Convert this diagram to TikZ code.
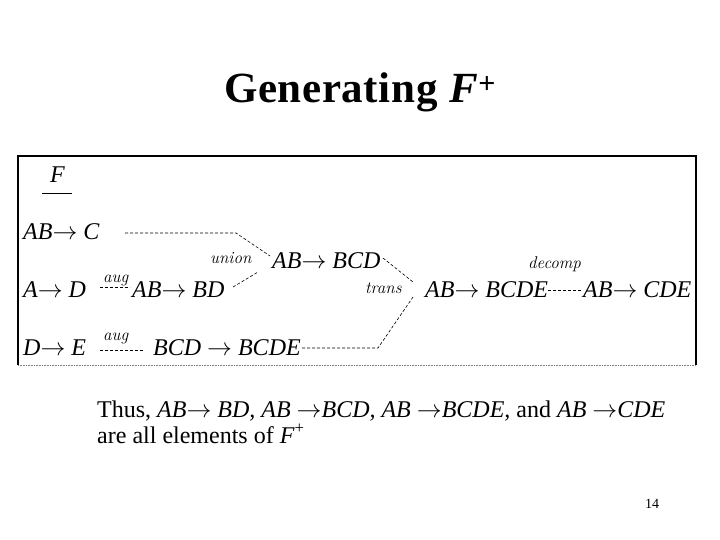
\documentclass[tikz,border=0pt]{standalone}
\usepackage{fontspec}
\setmainfont{Liberation Serif}
\newfontfamily\labfont{Latin Modern Roman}
\newcommand\arr{\ensuremath{\rightarrow}}
\begin{document}
\begin{tikzpicture}[x=1pt,y=-1pt,
  txt/.style={anchor=base west,inner sep=0pt,font=\fontsize{24}{28}\selectfont\itshape},
  lab/.style={anchor=base west,inner sep=0pt,font=\fontsize{17}{20}\labfont\itshape},
  dsh/.style={line width=0.6pt,dash pattern=on 3pt off 2pt}]
\useasboundingbox[fill=white] (0,0) rectangle (720,540);
% title
\node[anchor=base,inner sep=0pt,font=\fontsize{43}{50}\selectfont\bfseries\addfontfeature{LetterSpace=1.5}] (title) at (360,103) {Generating \textit{F}\textsuperscript{+}};
% frame
\draw[line width=1.2pt] (18,365) -- (18,156) -- (696,156) -- (696,365);
\draw[line width=0.5pt,gray,dash pattern=on 0.8pt off 0.8pt] (18,365) -- (696,365);
% F
\node[txt] (F) at (50,183) {F};
\draw[line width=0.8pt] (42,193) -- (72,193);
% rows
\node[txt] (ABC) at (23,240) {AB\arr\ C};
\node[txt] (AD) at (23,297) {A\arr\ D};
\node[txt] (DE) at (23,355) {D\arr\ E};
\node[txt] (ABBD) at (132,297) {AB\arr\ BD};
\node[txt] (BCDE) at (153,355) {BCD \arr\ BCDE};
\node[txt] (ABBCD) at (272,268) {AB\arr\ BCD};
\node[txt] (ABBCDE) at (425,297) {AB\arr\ BCDE};
\node[txt] (ABCDE) at (583,297) {AB\arr\ CDE};
% labels
\node[lab] (aug1) at (103,282) {aug};
\node[lab] (aug2) at (103,340) {aug};
\node[lab] (union) at (210,263) {union};
\node[lab] (trans) at (365,293) {trans};
\node[lab] (decomp) at (528,268) {decomp};
% connector points
\coordinate (a1) at (100,287); \coordinate (a2) at (130,287);
\coordinate (b1) at (100,350); \coordinate (b2) at (143,350);
\coordinate (u1) at (125,233); \coordinate (u2) at (236,233); \coordinate (u3) at (270,256);
\coordinate (l1) at (233,287); \coordinate (l2) at (258,272);
\coordinate (t1) at (383,258); \coordinate (t2) at (413,282);
\coordinate (s1) at (302,348); \coordinate (s2) at (378,348); \coordinate (s3) at (413,297);
\coordinate (d1) at (548,290); \coordinate (d2) at (582,290);
\draw[dsh] (a1) -- (a2);
\draw[dsh] (b1) -- (b2);
\draw[dsh] (u1) -- (u2) -- (u3);
\draw[dsh] (l1) -- (l2);
\draw[dsh] (t1) -- (t2);
\draw[dsh] (s1) -- (s2) -- (s3);
\draw[dsh] (d1) -- (d2);
% bottom text
\node[anchor=base west,inner sep=0pt,font=\fontsize{24}{28}\selectfont] (thus) at (97,417)
  {Thus, \textit{AB\arr\ BD, AB \arr BCD, AB \arr BCDE,} and \textit{AB \arr CDE}};
\node[anchor=base west,inner sep=0pt,font=\fontsize{24}{28}\selectfont] (are) at (97,443)
  {are all elements of \textit{F}\textsuperscript{+}};
\node[anchor=base west,inner sep=0pt,font=\fontsize{14}{16}\selectfont] (pg) at (645,508) {14};
\end{tikzpicture}
\end{document}
